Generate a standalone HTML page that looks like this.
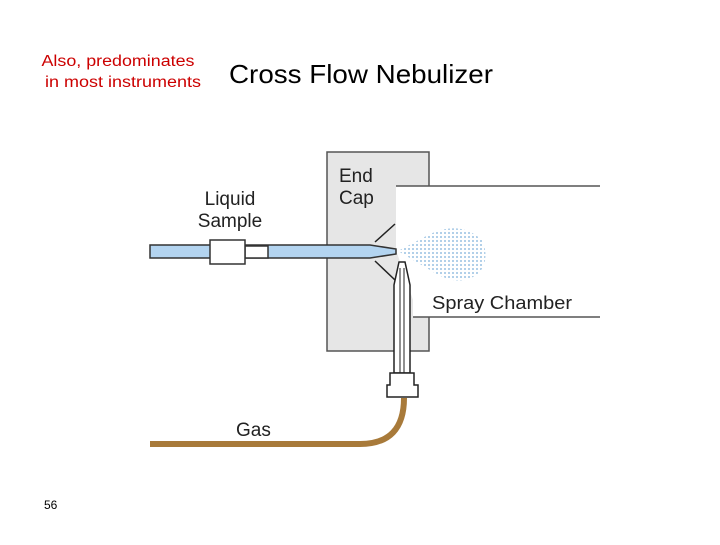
<!DOCTYPE html>
<html><head><style>
body{margin:0;background:#fff;width:720px;height:540px;overflow:hidden;font-family:"Liberation Sans",sans-serif}
</style></head><body>
<svg width="720" height="540" xmlns="http://www.w3.org/2000/svg" font-family="Liberation Sans, sans-serif">
<defs>
<pattern id="dots" width="4" height="4" patternUnits="userSpaceOnUse">
<rect x="0" y="0" width="2" height="2" fill="#a9cbe6"/>
</pattern>
</defs>
<text x="118" y="66" font-size="15.5" fill="#cc0000" text-anchor="middle" textLength="153" lengthAdjust="spacingAndGlyphs">Also, predominates</text>
<text x="123" y="87" font-size="15.5" fill="#cc0000" text-anchor="middle" textLength="156" lengthAdjust="spacingAndGlyphs">in most instruments</text>
<text x="229" y="83" font-size="26" fill="#000" textLength="264" lengthAdjust="spacingAndGlyphs">Cross Flow Nebulizer</text>
<text x="44" y="509" font-size="12" fill="#000">56</text>
<rect x="327" y="152" width="102" height="199" fill="#e6e6e6" stroke="#555" stroke-width="1.5"/>
<path d="M396,186 L600,186 L600,317 L413,317 L413,300 L396,250 Z" fill="#fff"/>
<line x1="396" y1="186" x2="600" y2="186" stroke="#555" stroke-width="1.5"/>
<line x1="413" y1="317" x2="600" y2="317" stroke="#555" stroke-width="1.5"/>
<text x="339" y="182" font-size="19" fill="#222">End</text>
<text x="339" y="204" font-size="19" fill="#222">Cap</text>
<text x="230" y="205" font-size="19" fill="#222" text-anchor="middle">Liquid</text>
<text x="230" y="227" font-size="19" fill="#222" text-anchor="middle">Sample</text>
<text x="432" y="309" font-size="18.5" fill="#222" textLength="140" lengthAdjust="spacingAndGlyphs">Spray Chamber</text>
<text x="236" y="436" font-size="19" fill="#222">Gas</text>
<path d="M398,251 L430,234 Q460,220 482,240 Q490,258 480,272 Q460,290 430,270 Z" fill="url(#dots)" opacity="0.9"/>
<line x1="395" y1="224" x2="375" y2="242" stroke="#222" stroke-width="1.5"/>
<line x1="375" y1="261" x2="395" y2="280" stroke="#222" stroke-width="1.5"/>
<path d="M150,245 L370,245 L396,249 L396,254 L370,258 L150,258 Z" fill="#b3d4f0" stroke="#333" stroke-width="1.5"/>
<rect x="245" y="246" width="23" height="12" fill="#fff" stroke="#333" stroke-width="1.5"/>
<rect x="210" y="240" width="35" height="24" fill="#fff" stroke="#333" stroke-width="1.5"/>
<path d="M150,444 L360,444 Q404,444 404,398" fill="none" stroke="#a87a3a" stroke-width="6"/>
<path d="M394,373 L394,285 L399,262 L405,262 L410,285 L410,373 Z" fill="#fff" stroke="#222" stroke-width="1.5"/>
<line x1="400" y1="268" x2="400" y2="373" stroke="#222" stroke-width="1"/>
<line x1="404" y1="268" x2="404" y2="373" stroke="#222" stroke-width="1"/>
<path d="M390,373 L414,373 L414,385 L418,385 L418,397 L387,397 L387,385 L390,385 Z" fill="#fff" stroke="#222" stroke-width="1.5"/>
</svg>
</body></html>
